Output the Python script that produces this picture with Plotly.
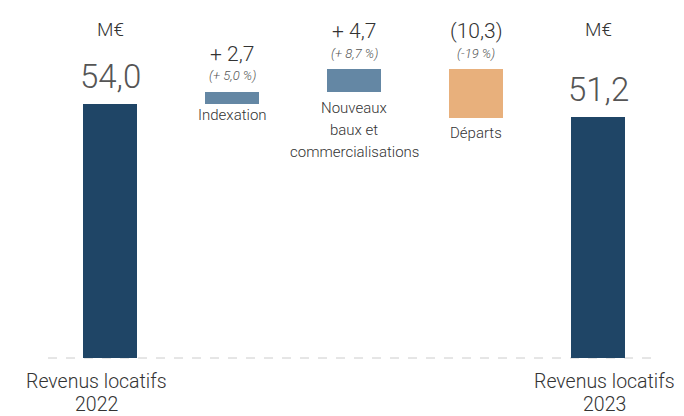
import plotly.graph_objects as go

categories = ["Revenus locatifs 2022", "Indexation", "Nouveaux baux et commercialisations", "Départs", "Revenus locatifs 2023"]
start_value = 54.0
changes = [2.7, 4.7, -10.3]
end_value = 51.2
change_labels = ["+ 2,7", "+ 4,7", "(10,3)"]
pct_labels = ["(+ 5,0 %)", "(+ 8,7 %)", "(-19 %)"]
cat_labels = ["Indexation", "Nouveaux<br>baux et<br>commercialisations", "Départs"]
total_labels = ["54,0", "51,2"]
bottom_labels = ["Revenus locatifs<br>2022", "Revenus locatifs<br>2023"]
unit_label = "M€"

NAVY = "#1f4566"
BLUE = "#6487a4"
ORANGE = "#e8b07c"

# build floating bars
bases, heights, colors = [], [], []
bases.append(0); heights.append(start_value); colors.append(NAVY)
running = start_value
for c in changes:
    if c >= 0:
        bases.append(running); heights.append(c); colors.append(BLUE)
    else:
        bases.append(running + c); heights.append(-c); colors.append(ORANGE)
    running += c
bases.append(0); heights.append(end_value); colors.append(NAVY)

xs = list(range(len(categories)))
fig = go.Figure(go.Bar(x=xs, y=heights, base=bases, marker_color=colors, width=0.45,
                       marker_line_width=0, hoverinfo="skip"))

# page has an 8px body margin: figure is drawn 8px right/down
OFF = 8
W, H = 684 - OFF, 416 - OFF
PX_PER_CAT = 122
X0 = 110 - OFF          # pixel of category 0 center
PX_PER_UNIT = 4.7
BASE_Y = 358 - OFF      # pixel of y = 0

FONT = "Roboto"
ann = []
# totals
for i, (xi, val, lab) in enumerate([(0, start_value, total_labels[0]), (4, end_value, total_labels[1])]):
    ann.append(dict(x=xi, y=val, text=lab, showarrow=False, yanchor="middle", yshift=28,
                    font=dict(size=33, color="#555555", family=FONT, weight=300)))
    ann.append(dict(x=xi, y=1 - (29 - OFF) / H, yref="paper", text=unit_label, showarrow=False, yanchor="middle",
                    font=dict(size=19, color="#333333", family=FONT, weight=300)))
    for j, line in enumerate(bottom_labels[i].split("<br>")):
        ann.append(dict(x=xi, xshift=(-14 if xi == 0 else 6), y=0, text=line, showarrow=False,
                        yanchor="middle", yshift=-23 - 23 * j,
                        font=dict(size=19.5, color="#333333", family=FONT, weight=300)))
# changes
below_gap = [11, 16, 15]
for k in range(3):
    xi = k + 1
    top = bases[xi] + heights[xi]
    bot = bases[xi]
    ann.append(dict(x=xi, y=top, text=change_labels[k], showarrow=False, yanchor="middle", yshift=38,
                    font=dict(size=21, color="#333333", family=FONT, weight=300)))
    ann.append(dict(x=xi, y=top, text="<i>" + pct_labels[k] + "</i>", showarrow=False, yanchor="middle", yshift=16,
                    font=dict(size=13, color="#555555", family=FONT, weight=300)))
    for j, line in enumerate(cat_labels[k].split("<br>")):
        ann.append(dict(x=xi, y=bot, text=line, showarrow=False, yanchor="middle",
                        yshift=-below_gap[k] - 22 * j,
                        font=dict(size=15, color="#333333", family=FONT, weight=300)))

fig.update_layout(
    width=W, height=H,
    margin=dict(l=0, r=0, t=0, b=0),
    paper_bgcolor="white", plot_bgcolor="white",
    showlegend=False,
    annotations=ann,
    bargap=0,
    shapes=[dict(type="line", xref="paper", yref="y", x0=(48 - OFF) / W, x1=(655 - OFF) / W, y0=0, y1=0,
                 line=dict(color="#cccccc", width=1, dash="dash"), layer="below")],
    xaxis=dict(range=[-X0 / PX_PER_CAT, (W - X0) / PX_PER_CAT], visible=False, fixedrange=True),
    yaxis=dict(range=[-(H - BASE_Y) / PX_PER_UNIT, BASE_Y / PX_PER_UNIT], visible=False, fixedrange=True),
)
fig.write_html("out.html")
